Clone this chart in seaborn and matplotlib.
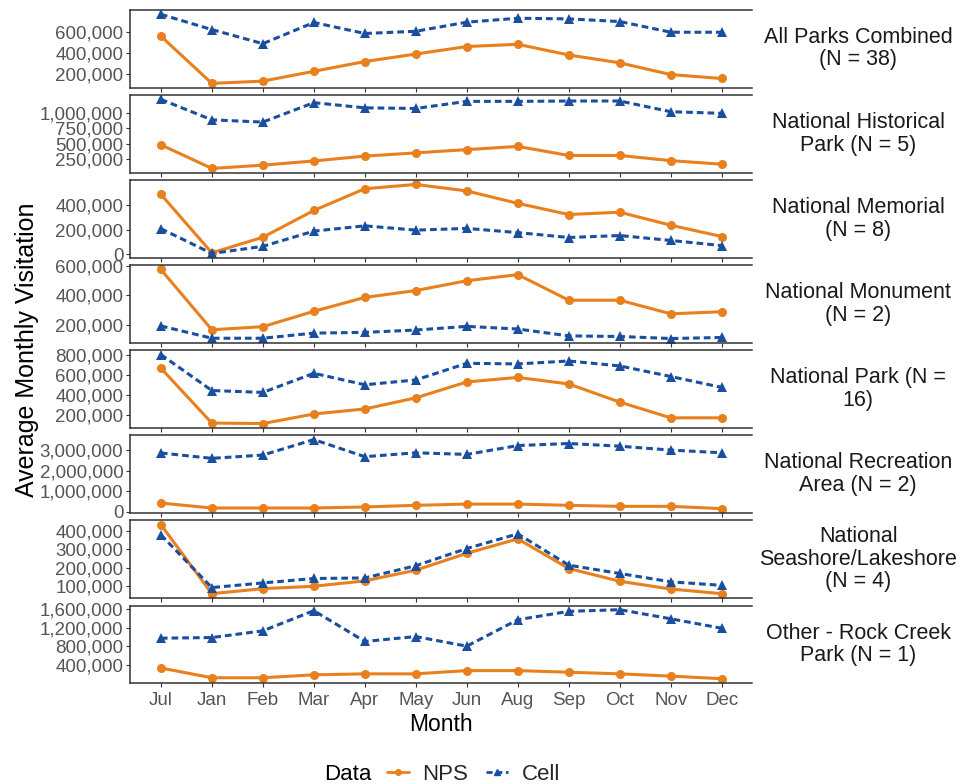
import pandas as pd
import numpy as np
import matplotlib
matplotlib.use("Agg")
import matplotlib.pyplot as plt
from matplotlib.lines import Line2D
from matplotlib.ticker import FuncFormatter
import seaborn as sns

# Months in the order they appear on the x axis
months = ["Jul", "Jan", "Feb", "Mar", "Apr", "May", "Jun", "Aug", "Sep", "Oct", "Nov", "Dec"]

panels = [
    "All Parks Combined\n(N = 38)",
    "National Historical\nPark (N = 5)",
    "National Memorial\n(N = 8)",
    "National Monument\n(N = 2)",
    "National Park (N =\n16)",
    "National Recreation\nArea (N = 2)",
    "National\nSeashore/Lakeshore\n(N = 4)",
    "Other - Rock Creek\nPark (N = 1)",
]

# NPS counts per panel
nps_all = [560000, 114000, 135000, 228000, 320000, 391000, 462000, 483000, 382000, 308000, 197000, 160000]
nps_hist = [484000, 104000, 156000, 224000, 302000, 354000, 406000, 458000, 312000, 312000, 229000, 172000]
nps_memorial = [490000, 13000, 140000, 358000, 535000, 570000, 517000, 416000, 325000, 344000, 238000, 146000]
nps_monument = [577000, 165000, 186000, 291000, 386000, 433000, 500000, 542000, 367000, 367000, 274000, 288000]
nps_park = [665000, 120000, 115000, 210000, 260000, 370000, 528000, 573000, 508000, 328000, 172000, 172000]
nps_recreation = [430000, 190000, 190000, 190000, 240000, 320000, 380000, 380000, 320000, 270000, 270000, 160000]
nps_seashore = [433000, 60000, 87000, 100000, 129000, 187000, 278000, 356000, 196000, 127000, 85000, 60000]
nps_rockcreek = [330000, 120000, 120000, 183000, 204000, 204000, 274000, 274000, 239000, 204000, 155000, 99000]

# Cell-phone based estimates per panel
cell_all = [766000, 622000, 489000, 689000, 585000, 606000, 692000, 729000, 723000, 698000, 597000, 597000]
cell_hist = [1214000, 885000, 849000, 1161000, 1078000, 1068000, 1182000, 1182000, 1188000, 1188000, 1016000, 990000]
cell_memorial = [210000, 8000, 66000, 190000, 233000, 198000, 212000, 178000, 138000, 154000, 114000, 72000]
cell_monument = [191000, 107000, 107000, 142000, 147000, 163000, 188000, 170000, 123000, 119000, 105000, 112000]
cell_park = [800000, 443000, 424000, 614000, 500000, 548000, 713000, 707000, 736000, 687000, 582000, 474000]
cell_recreation = [2860000, 2600000, 2760000, 3510000, 2680000, 2870000, 2790000, 3220000, 3320000, 3190000, 3000000, 2870000]
cell_seashore = [378000, 93000, 118000, 142000, 145000, 211000, 304000, 383000, 214000, 169000, 124000, 105000]
cell_rockcreek = [972000, 986000, 1130000, 1565000, 902000, 1007000, 800000, 1370000, 1550000, 1586000, 1390000, 1186000]

nps_series = [nps_all, nps_hist, nps_memorial, nps_monument, nps_park, nps_recreation, nps_seashore, nps_rockcreek]
cell_series = [cell_all, cell_hist, cell_memorial, cell_monument, cell_park, cell_recreation, cell_seashore, cell_rockcreek]

# y ticks used in each facet
yticks = [
    [200000, 400000, 600000],
    [250000, 500000, 750000, 1000000],
    [0, 200000, 400000],
    [200000, 400000, 600000],
    [200000, 400000, 600000, 800000],
    [0, 1000000, 2000000, 3000000],
    [100000, 200000, 300000, 400000],
    [400000, 800000, 1200000, 1600000],
]

# Long format table for seaborn
rows = []
for p, nps, cell in zip(panels, nps_series, cell_series):
    for i, m in enumerate(months):
        rows.append({"Panel": p, "Pos": i, "Month": m, "Data": "NPS", "Visits": nps[i]})
        rows.append({"Panel": p, "Pos": i, "Month": m, "Data": "Cell", "Visits": cell[i]})
df = pd.DataFrame(rows)

colors = {"NPS": "#E8801E", "Cell": "#1A4E9E"}
markers = {"NPS": "o", "Cell": "^"}
dashes = {"NPS": "", "Cell": (2.2, 1.3)}

sns.set_style("white")
plt.rcParams["font.family"] = ["Liberation Sans Narrow", "Liberation Sans", "DejaVu Sans"]
label_font = ["Liberation Sans", "DejaVu Sans"]

fig, axes = plt.subplots(8, 1, figsize=(9.72, 7.84), dpi=100, sharex=True)
fig.subplots_adjust(left=0.134, right=0.774, top=0.987, bottom=0.129, hspace=0.1)

fmt = FuncFormatter(lambda v, pos: f"{int(round(v)):,}")

for ax, p, ticks in zip(axes, panels, yticks):
    sub = df[df["Panel"] == p]
    sns.lineplot(data=sub, x="Pos", y="Visits", hue="Data", style="Data",
                 hue_order=["NPS", "Cell"], style_order=["NPS", "Cell"],
                 palette=colors, markers=markers, dashes=dashes,
                 linewidth=2.2, markersize=6.5, markeredgewidth=0,
                 legend=False, ax=ax, sort=False)
    ax.set_yticks(ticks)
    ax.yaxis.set_major_formatter(fmt)
    ax.margins(y=0.06)
    ax.set_xlim(-0.6, len(months) - 0.4)
    ax.set_ylabel("")
    ax.set_xlabel("")
    for side in ["top", "bottom", "left"]:
        ax.spines[side].set_visible(True)
        ax.spines[side].set_color("#333333")
        ax.spines[side].set_linewidth(1.1)
    ax.spines["right"].set_visible(False)
    ax.tick_params(axis="y", labelsize=13.5, labelcolor="#555555", length=3,
                   color="#333333", pad=2, left=True)
    ax.tick_params(axis="x", labelsize=13.5, labelcolor="#555555", length=3,
                   color="#333333", bottom=True)
    ax.text(1.17, 0.5, p, transform=ax.transAxes, ha="center", va="center",
            fontsize=15.5, color="#1A1A1A", family=label_font, linespacing=1.08)

axes[-1].set_xticks(range(len(months)))
axes[-1].set_xticklabels(months)
axes[-1].set_xlabel("Month", fontsize=16.5, color="black", labelpad=3, family=label_font)

fig.text(0.028, 0.554, "Average Monthly Visitation", rotation=90, ha="center", va="center",
         fontsize=18, color="black", family=label_font)

# Legend at the bottom, title on the left
leg_y = 0.0125
fig.text(0.358, leg_y, "Data", ha="center", va="center", fontsize=16, color="black",
         family=label_font)
handles = [
    Line2D([], [], color=colors["NPS"], marker="o", linestyle="-", linewidth=2, markersize=4),
    Line2D([], [], color=colors["Cell"], marker="^", linestyle=(0, (2.2, 1.3)), linewidth=2, markersize=4.5),
]
fig.legend(handles, ["NPS", "Cell"], loc="center left", bbox_to_anchor=(0.398, leg_y),
           ncol=2, frameon=False, handlelength=1.0, handletextpad=0.6, columnspacing=0.8,
           borderpad=0, borderaxespad=0,
           prop={"family": label_font, "size": 16})

fig.savefig("out.png", dpi=100)
